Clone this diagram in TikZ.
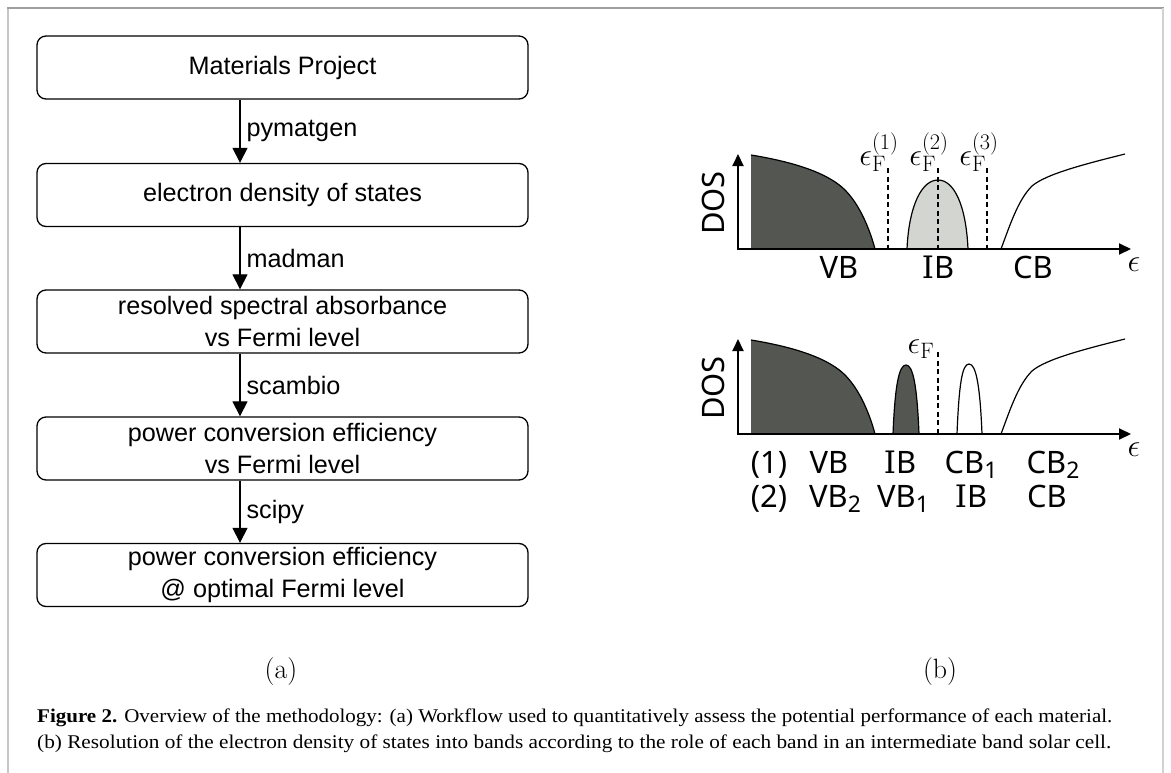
\documentclass[tikz,border=0pt]{standalone}
\usepackage{fix-cm}
\usepackage{fontspec}
\usepackage{graphicx}
\newfontfamily\boxfont{Liberation Sans}
\newfontfamily\capfont{Liberation Serif}
\newfontfamily\dosfont{Noto Sans}
\newfontfamily\serifIfont{DejaVu Serif}
\usetikzlibrary{arrows.meta}
\definecolor{darkfill}{RGB}{84,86,81}
\definecolor{lightfill}{RGB}{211,213,208}
\newcommand\bsub[1]{\raisebox{-5bp}{\fontsize{23}{23}\selectfont #1}}
\newcommand\serI{{\serifIfont I}}
\tikzset{
  flowbox/.style={draw, line width=1.3bp, rounded corners=9bp, minimum width=491bp, minimum height=63bp, inner sep=0pt, align=center, font=\boxfont\fontsize{25.3}{32}\selectfont},
  flowarr/.style={line width=1.2bp, -{Triangle[width=15bp,length=15bp]}},
  flowlbl/.style={font=\boxfont\fontsize{25.3}{30}\selectfont, anchor=west, inner sep=0pt, xshift=6bp},
  axisarr/.style={line width=2bp, -{Triangle[width=11bp,length=12bp]}},
  curve/.style={line width=1.2bp},
  fermi/.style={line width=1.1bp, dash pattern=on 5bp off 3.5bp},
  band/.style={font=\dosfont\fontsize{31}{31}\selectfont, anchor=base, inner sep=0pt},
  doslbl/.style={font=\dosfont\fontsize{31}{31}\selectfont, rotate=90, inner sep=0pt},
  eps/.style={font=\fontsize{32}{32}\selectfont, inner sep=0pt},
  capline/.style={font=\capfont\fontsize{19.5}{26}\selectfont, anchor=base west, inner sep=0pt},
  sublbl/.style={font=\fontsize{28}{28}\selectfont, inner sep=0pt},
}
\begin{document}
\begin{tikzpicture}[x=1bp,y=-1bp]
\useasboundingbox (0,0) rectangle (1171,773);
% frame
\draw[gray!45, line width=2bp] (8,773) -- (8,8);
\draw[gray!75, line width=2bp] (7,8) -- (1164,8);
\draw[gray!35, line width=2bp] (1163,8) -- (1163,773);

% ---------- (a) workflow ----------
\node[flowbox] (b1) at (282.5,67.5) {Materials Project};
\node[flowbox] (b2) at (282.5,195) {electron density of states};
\node[flowbox] (b3) at (282.5,321.5) {resolved spectral absorbance\\vs Fermi level};
\node[flowbox] (b4) at (282.5,448.5) {power conversion efficiency\\vs Fermi level};
\node[flowbox] (b5) at (282.5,575) {power conversion efficiency\\@ optimal Fermi level};
\coordinate (ax) at (240,0);
\draw[flowarr] (b1.south -| ax) -- node[flowlbl] (l1) {pymatgen} (b2.north -| ax);
\draw[flowarr] (b2.south -| ax) -- node[flowlbl] (l2) {madman} (b3.north -| ax);
\draw[flowarr] (b3.south -| ax) -- node[flowlbl] (l3) {scambio} (b4.north -| ax);
\draw[flowarr] (b4.south -| ax) -- node[flowlbl] (l4) {scipy} (b5.north -| ax);

% ---------- (b) top plot ----------
\fill[darkfill] (751,249) -- (751,155) .. controls (800,163) and (830,175) .. (845,190) .. controls (860,205) and (870,230) .. (875,249) -- cycle;
\draw[curve] (751,155) .. controls (800,163) and (830,175) .. (845,190) .. controls (860,205) and (870,230) .. (875,249);
\filldraw[fill=lightfill, draw=black, curve] (907,249) .. controls (909,205) and (922,180) .. (938,180) .. controls (954,180) and (966,205) .. (968,249);
\draw[curve] (1001,249) .. controls (1010,225) and (1018,200) .. (1032,186) .. controls (1046,174) and (1085,164) .. (1125,154);
\draw[fermi] (888,168) -- (888,249);
\draw[fermi] (938,168) -- (938,249);
\draw[fermi] (987,168) -- (987,249);
\draw[axisarr] (738,250) -- (738,154);
\draw[axisarr] (737,249) -- (1131,249);
\node[doslbl] (dos1) at (713,203) {DOS};
\node[eps] (ef1) at (879,152) {$\epsilon_{\mathrm{F}}^{(1)}$};
\node[eps] (ef2) at (929,152) {$\epsilon_{\mathrm{F}}^{(2)}$};
\node[eps] (ef3) at (979,152) {$\epsilon_{\mathrm{F}}^{(3)}$};
\node[eps] (e1) at (1134,265) {$\epsilon$};
\node[band] (vb) at (839,278) {VB};
\node[band] (ib) at (938,278) {\serI B};
\node[band] (cb) at (1033,278) {CB};

% ---------- (b) bottom plot ----------
\begin{scope}[shift={(0,185)}]
\fill[darkfill] (751,249) -- (751,155) .. controls (800,163) and (830,175) .. (845,190) .. controls (860,205) and (870,230) .. (875,249) -- cycle;
\draw[curve] (751,155) .. controls (800,163) and (830,175) .. (845,190) .. controls (860,205) and (870,230) .. (875,249);
\draw[curve] (1001,249) .. controls (1010,225) and (1018,200) .. (1032,186) .. controls (1046,174) and (1085,164) .. (1125,154);
\end{scope}
\filldraw[fill=darkfill, draw=black, curve] (893,434) .. controls (895,385) and (899,365) .. (906,365) .. controls (913,365) and (917,385) .. (919,434);
\filldraw[fill=white, draw=black, curve] (957,434) .. controls (959,385) and (962,364) .. (969,364) .. controls (976,364) and (980,385) .. (982,434);
\draw[fermi] (938,352) -- (938,434);
\draw[axisarr] (738,435) -- (738,339);
\draw[axisarr] (737,434) -- (1131,434);
\node[doslbl] (dos2) at (713,388) {DOS};
\node[eps] (ef4) at (921,349) {$\epsilon_{\mathrm{F}}$};
\node[eps] (e2) at (1134,450) {$\epsilon$};
\node[band] (r1) at (769,473) {(1)};
\node[band] (r1a) at (829,473) {VB};
\node[band] (r1b) at (900,473) {\serI B};
\node[band] (r1c) at (971,473) {CB\bsub{1}};
\node[band] (r1d) at (1053,473) {CB\bsub{2}};
\node[band] (r2) at (769,507) {(2)};
\node[band] (r2a) at (835,507) {VB\bsub{2}};
\node[band] (r2b) at (903,507) {VB\bsub{1}};
\node[band] (r2c) at (971,507) {\serI B};
\node[band] (r2d) at (1047,507) {CB};

% ---------- sub-labels and caption ----------
\node[sublbl] (la) at (281,672) {(a)};
\node[sublbl] (lb) at (940,672) {(b)};
\node[capline] (cap1) at (37,722) {\resizebox{1075bp}{\height}{\textbf{Figure 2.} Overview of the methodology: (a) Workflow used to quantitatively assess the potential performance of each material.}};
\node[capline] (cap2) at (37,748) {\resizebox{1074bp}{\height}{(b) Resolution of the electron density of states into bands according to the role of each band in an intermediate band solar cell.}};
\end{tikzpicture}
\end{document}
